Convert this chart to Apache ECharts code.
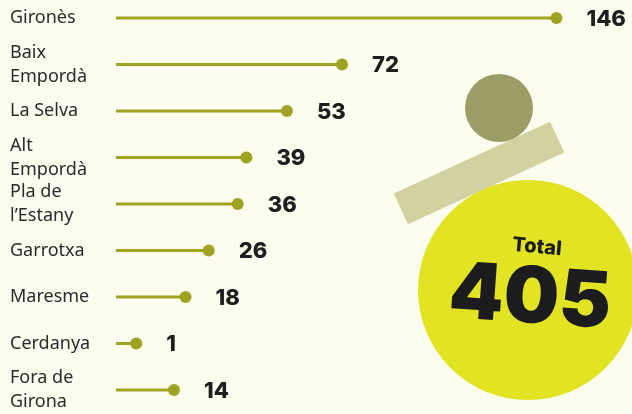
<!DOCTYPE html>
<html>
<head>
<meta charset="utf-8">
<script src="https://cdn.jsdelivr.net/npm/echarts@6/dist/echarts.min.js"></script>
<style>
  html, body { margin: 0; padding: 0; background: #fdfdef; }
  #chart { width: 632px; height: 414px; }
</style>
</head>
<body>
<div id="chart"></div>
<script>
const categories = ['Gironès', 'Baix\nEmpordà', 'La Selva', 'Alt\nEmpordà', 'Pla de\nl’Estany', 'Garrotxa', 'Maresme', 'Cerdanya', 'Fora de\nGirona'];
const values = [146, 72, 53, 39, 36, 26, 18, 1, 14];

const olive = '#a0a222';
const xMin = -6;
const total = values.reduce((a, b) => a + b, 0);

function renderLollipop(params, api) {
    let end = api.coord([api.value(0), api.value(1)]);
    let start = api.coord([xMin, api.value(1)]);
    return {
        type: 'group',
        children: [
            { type: 'line', shape: { x1: start[0], y1: start[1], x2: end[0], y2: end[1] }, style: { stroke: olive, lineWidth: 3 } },
            { type: 'circle', shape: { cx: end[0], cy: end[1], r: 6 }, style: { fill: olive } },
            {
                type: 'text', x: end[0] + 30, y: end[1] + 1,
                style: {
                    text: String(api.value(0)), fill: '#1e1e1e', fontSize: 22, fontWeight: 800,
                    fontFamily: 'Inter', align: 'left', verticalAlign: 'middle'
                }
            }
        ]
    };
}

let myChart = echarts.init(document.getElementById('chart'));
let option = {
    backgroundColor: '#fdfdef',
    animation: false,
    grid: { left: 116, top: 18, width: 481, height: 375 },
    xAxis: { type: 'value', min: xMin, max: 160, show: false },
    yAxis: {
        type: 'category',
        data: categories,
        inverse: true,
        boundaryGap: false,
        axisLine: { show: false },
        axisTick: { show: false },
        splitLine: { show: false },
        axisLabel: {
            align: 'left',
            margin: 106,
            fontSize: 18,
            lineHeight: 24,
            color: '#2a2a2a',
            fontFamily: 'Noto Sans'
        }
    },
    series: [{
        type: 'custom',
        renderItem: renderLollipop,
        encode: { x: 0, y: 1 },
        data: values.map((v, i) => [v, i])
    }],
    graphic: [
        { type: 'circle', shape: { cx: 499, cy: 108, r: 34 }, style: { fill: '#9d9d68' } },
        { type: 'rect', x: 479, y: 173, rotation: 0.43, shape: { x: -86, y: -17, width: 172, height: 34 }, style: { fill: '#d1d1a1' } },
        { type: 'circle', shape: { cx: 528, cy: 290, r: 110 }, style: { fill: '#e2e322' } },
        {
            type: 'text', x: 537, y: 247, rotation: -0.09,
            style: { text: 'Total', fill: '#1c1c1e', fontSize: 20, fontWeight: 800, fontFamily: 'Inter', align: 'center', verticalAlign: 'middle' }
        },
        {
            type: 'text', x: 530, y: 299, rotation: -0.07,
            style: { text: String(total), fill: '#1c1c1e', fontSize: 78, fontWeight: 900, fontFamily: 'Inter', align: 'center', verticalAlign: 'middle' }
        }
    ]
};
myChart.setOption(option);
</script>
</body>
</html>
